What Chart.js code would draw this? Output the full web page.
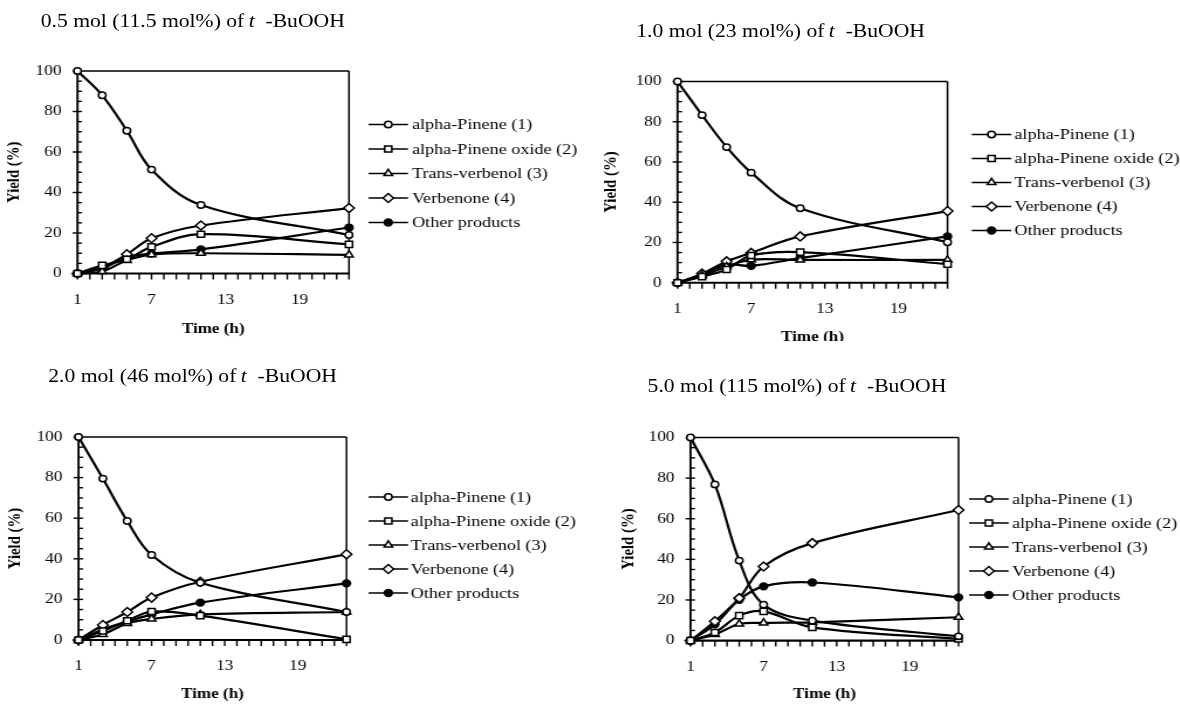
<!DOCTYPE html>
<html><head><meta charset="utf-8">
<script src="https://cdn.jsdelivr.net/npm/chart.js@4.4.1/dist/chart.umd.min.js"></script>
<style>
html,body{margin:0;padding:0;background:#fff;}
body{width:1180px;height:704px;position:relative;overflow:hidden;}
.panel{position:absolute;transform-origin:0 0;overflow:hidden;background:#fff;}
.ttl{position:absolute;white-space:nowrap;font-family:"Liberation Serif","Times New Roman",serif;font-size:18.5px;line-height:20px;color:#000;}
.panel canvas{position:absolute;left:0;top:0;}
</style></head><body>
<script>
// ---------------- data ----------------
const times = [1, 3, 5, 7, 11, 23];
const xTickLabels = [1, 7, 13, 19];
const yTickLabels = [0, 20, 40, 60, 80, 100];
const seriesNames = ['alpha-Pinene (1)', 'alpha-Pinene oxide (2)', 'Trans-verbenol (3)', 'Verbenone (4)', 'Other products'];
const panelTitles = ['0.5 mol (11.5 mol%) of', '1.0 mol (23 mol%) of', '2.0 mol (46 mol%) of', '5.0 mol (115 mol%) of'];

// 0.5 mol (11.5 mol%)
const p1Pinene    = [100, 88, 70.5, 51.3, 33.8, 19];
const p1Oxide     = [0, 4, 7, 13.2, 19.4, 14.4];
const p1Verbenol  = [0, 1, 6.5, 9.3, 10, 9.2];
const p1Verbenone = [0, 3, 9.5, 17.4, 23.7, 32.3];
const p1Other     = [0, 2.5, 8, 9.8, 11.9, 22.7];
// 1.0 mol (23 mol%)
const p2Pinene    = [100, 83.3, 67.4, 54.7, 37, 20.1];
const p2Oxide     = [0, 3, 6.6, 13.5, 15.2, 9.2];
const p2Verbenol  = [0, 3.5, 8, 11.5, 11.3, 11.3];
const p2Verbenone = [0, 4.5, 10.6, 14.8, 23, 35.6];
const p2Other     = [0, 4, 9, 8.4, 12.2, 23];
// 2.0 mol (46 mol%)
const p3Pinene    = [100, 79.5, 58.6, 41.9, 28.2, 13.8];
const p3Oxide     = [0, 4.4, 9.5, 14, 12, 0.3];
const p3Verbenol  = [0, 2.8, 8.2, 10.4, 12.6, 13.8];
const p3Verbenone = [0, 7.4, 13.8, 20.9, 28.7, 42.2];
const p3Other     = [0, 5.2, 9, 12.6, 18.4, 27.9];
// 5.0 mol (115 mol%)
const p4Pinene    = [100, 76.9, 39.4, 17.7, 9.8, 2.1];
const p4Oxide     = [0, 4, 12.3, 14.4, 6.5, 0.8];
const p4Verbenol  = [0, 3, 8.2, 8.7, 9, 11.5];
const p4Verbenone = [0, 9.5, 20.9, 36.5, 48, 64.3];
const p4Other     = [0, 8, 20.1, 26.7, 28.6, 21.3];

const panelSeries = [
  [p1Pinene, p1Oxide, p1Verbenol, p1Verbenone, p1Other],
  [p2Pinene, p2Oxide, p2Verbenol, p2Verbenone, p2Other],
  [p3Pinene, p3Oxide, p3Verbenol, p3Verbenone, p3Other],
  [p4Pinene, p4Oxide, p4Verbenol, p4Verbenone, p4Other]
];

// ---------------- layout / style ----------------
const S = 1.17;               // horizontal stretch of the scanned original
const PANEL_W = 590, PANEL_H = 352;
const FONT = '"Liberation Serif", "Times New Roman", serif';
const layout = [
  {L:0,   T:0,   clipH:352, left:77.5,  right:349,   top:71,    bottom:273.5, titleX:40.7,  titleBase:27,    yTitleX:14.2,  xTitleY:329,   legLine:368.5, legText:412,    legY:124.5, legDy:24.5},
  {L:590, T:0,   clipH:341, left:677.5, right:947.5, top:81.5,  bottom:282.7, titleX:636.3, titleBase:37,    yTitleX:611.7, xTitleY:337.5, legLine:971.8, legText:1014.4, legY:134.5, legDy:24},
  {L:0,   T:352, clipH:352, left:78.5,  right:346.5, top:437,   bottom:640,   titleX:48.2,  titleBase:382.6, yTitleX:16,    xTitleY:694.5, legLine:368.6, legText:410.8,  legY:497,   legDy:24},
  {L:590, T:352, clipH:352, left:690.5, right:958.5, top:437.5, bottom:640.6, titleX:647.6, titleBase:392.6, yTitleX:628.7, xTitleY:694.5, legLine:969.1, legText:1012,   legY:499,   legDy:24}
];
const markerStyles = [
  {pointStyle:'circle',   radius:3.2, fill:'#fff'},
  {pointStyle:'rect',     radius:4.3, fill:'#fff'},
  {pointStyle:'triangle', radius:4.2, fill:'#fff'},
  {pointStyle:'rectRot',  radius:4.5, fill:'#fff'},
  {pointStyle:'circle',   radius:3.4, fill:'#000'}
];
const Y_MINOR = 5, X_MINOR = 1;

Chart.defaults.font.family = FONT;
Chart.defaults.color = '#000';

function drawMarker(ctx, st, x, y) {
  ctx.save();
  ctx.fillStyle = st.fill; ctx.strokeStyle = '#000'; ctx.lineWidth = 1.5;
  if (Chart.helpers && Chart.helpers.drawPoint) {
    Chart.helpers.drawPoint(ctx, {pointStyle: st.pointStyle, radius: st.radius, borderWidth: 1.5, rotation: 0}, x, y);
  } else {
    ctx.beginPath(); ctx.arc(x, y, st.radius, 0, Math.PI*2); ctx.fill(); ctx.stroke();
  }
  ctx.restore();
}

const framePlugin = {
  id: 'frame',
  beforeDatasetsDraw(chart) {
    const {ctx, chartArea: a, scales: {x, y}} = chart;
    ctx.save();
    ctx.strokeStyle = '#000';
    ctx.lineCap = 'butt';
    // top and right border
    ctx.lineWidth = 1.4;
    ctx.beginPath(); ctx.moveTo(a.left, a.top); ctx.lineTo(a.right, a.top); ctx.stroke();
    ctx.lineWidth = 1.5;
    ctx.beginPath(); ctx.moveTo(a.right, a.top); ctx.lineTo(a.right, a.bottom); ctx.stroke();
    // y ticks
    ctx.lineWidth = 1.4;
    for (let v = y.min; v <= y.max + 1e-9; v += Y_MINOR) {
      const py = y.getPixelForValue(v);
      const major = Math.abs(v % 20) < 1e-9;
      ctx.beginPath();
      ctx.moveTo(a.left - (major ? 5 / S : 0), py);
      ctx.lineTo(a.left + 4.5 / S, py);
      ctx.stroke();
    }
    // x ticks
    ctx.lineWidth = 1.4;
    for (let v = x.min; v <= x.max + 1e-9; v += X_MINOR) {
      const px = x.getPixelForValue(v);
      ctx.beginPath(); ctx.moveTo(px, a.bottom); ctx.lineTo(px, a.bottom + 6); ctx.stroke();
    }
    // axis lines
    ctx.lineWidth = 1.9;
    ctx.beginPath(); ctx.moveTo(a.left, a.top - 0.7); ctx.lineTo(a.left, a.bottom + 1); ctx.stroke();
    ctx.lineWidth = 2.1;
    ctx.beginPath(); ctx.moveTo(a.left - 1, a.bottom); ctx.lineTo(a.right + 0.75, a.bottom); ctx.stroke();
    ctx.restore();
  },
  afterDraw(chart, args, opts) {
    const lay = opts.lay;
    if (!lay) return;
    const ctx = chart.ctx;
    ctx.save();
    const x0 = (lay.legLine - lay.L) / S;
    const x1 = x0 + 39.5 / S;
    const tx = (lay.legText - lay.L) / S;
    ctx.font = '15.5px ' + FONT;
    ctx.textBaseline = 'middle';
    seriesNames.forEach((name, i) => {
      const yy = lay.legY + i * lay.legDy - lay.T;
      ctx.strokeStyle = '#000'; ctx.lineWidth = 1.7;
      ctx.beginPath(); ctx.moveTo(x0, yy); ctx.lineTo(x1, yy); ctx.stroke();
      drawMarker(ctx, markerStyles[i], (x0 + x1) / 2, yy);
      ctx.fillStyle = '#000';
      ctx.fillText(name, tx, yy + 0.5);
    });
    ctx.restore();
  }
};

layout.forEach((lay, idx) => {
  const W = Math.round(PANEL_W / S);
  const div = document.createElement('div');
  div.className = 'panel';
  div.style.left = lay.L + 'px';
  div.style.top = lay.T + 'px';
  div.style.width = W + 'px';
  div.style.height = lay.clipH + 'px';
  div.style.transform = 'scaleX(' + S + ')';
  document.body.appendChild(div);

  const canvas = document.createElement('canvas');
  canvas.width = W; canvas.height = PANEL_H;
  div.appendChild(canvas);

  const ttl = document.createElement('div');
  ttl.className = 'ttl';
  ttl.style.left = ((lay.titleX - lay.L) / S) + 'px';
  ttl.style.top = (lay.titleBase - lay.T - 16.2) + 'px';
  ttl.innerHTML = panelTitles[idx] + '<i>&thinsp;t</i>&nbsp; -BuOOH';
  div.appendChild(ttl);

  const inL = (lay.left - lay.L) / S, inR = (lay.right - lay.L) / S;
  const inTop = lay.top - lay.T, inBot = lay.bottom - lay.T;
  const yTitleSize = 14.8, xTitleSize = 14.6, tickSize = 14.8;
  const padLeft = (lay.yTitleX - lay.L) / S - yTitleSize * 1.2 / 2;
  const yAxisW = inL - padLeft;
  const xAxisH = (lay.xTitleY - lay.T) + xTitleSize * 1.2 / 2 - inBot;
  const padBottom = PANEL_H - inBot - xAxisH;

  const datasets = panelSeries[idx].map((vals, i) => ({
    label: seriesNames[i],
    data: times.map((t, k) => ({x: t, y: vals[k]})),
    borderColor: '#000',
    borderWidth: 2.2,
    tension: 0.36,
    fill: false,
    pointStyle: markerStyles[i].pointStyle,
    pointRadius: markerStyles[i].radius,
    pointBackgroundColor: markerStyles[i].fill,
    pointBorderColor: '#000',
    pointBorderWidth: 1.5,
    clip: 12
  }));

  new Chart(canvas, {
    type: 'line',
    data: {datasets},
    plugins: [framePlugin],
    options: {
      responsive: false,
      animation: false,
      events: [],
      devicePixelRatio: 1,
      layout: {padding: {left: padLeft, right: W - inR, top: inTop, bottom: padBottom}},
      plugins: {legend: {display: false}, tooltip: {enabled: false}, frame: {lay}},
      scales: {
        x: {
          type: 'linear', min: 1, max: 23,
          afterBuildTicks: s => { s.ticks = xTickLabels.map(v => ({value: v})); },
          afterFit: s => { s.height = xAxisH; },
          grid: {display: false, drawTicks: false, tickLength: 0},
          border: {display: false},
          ticks: {font: {size: tickSize, family: FONT}, color: '#000', padding: 26.5 - tickSize * 1.2 / 2, maxRotation: 0, autoSkip: false},
          title: {display: true, text: 'Time (h)', color: '#000', font: {size: xTitleSize, family: FONT, weight: 'bold'}, padding: 0}
        },
        y: {
          type: 'linear', min: 0, max: 100,
          afterBuildTicks: s => { s.ticks = yTickLabels.map(v => ({value: v})); },
          afterFit: s => { s.width = yAxisW; },
          grid: {display: false, drawTicks: false, tickLength: 0},
          border: {display: false},
          ticks: {font: {size: tickSize, family: FONT}, color: '#000', padding: 16 / S, autoSkip: false},
          title: {display: true, text: 'Yield (%)', color: '#000', font: {size: yTitleSize, family: FONT, weight: 'bold'}, padding: 0}
        }
      }
    }
  });
});
</script>
</body></html>
